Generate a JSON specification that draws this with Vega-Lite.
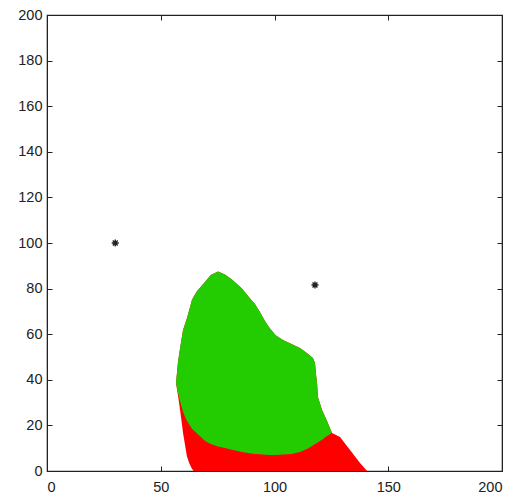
{
  "$schema": "https://vega.github.io/schema/vega-lite/v6.json",
  "width": 455,
  "height": 456,
  "autosize": "none",
  "padding": {"left": 47, "top": 15, "right": 17, "bottom": 27},
  "background": "white",
  "config": {
    "view": {"stroke": "#222222", "strokeWidth": 1.2},
    "axis": {
      "grid": false,
      "domainColor": "#222222",
      "tickColor": "#222222",
      "labelFont": "Liberation Sans",
      "labelFontSize": 14.5,
      "labelColor": "#222222",
      "tickSize": -5,
      "title": null
    }
  },
  "datasets": {
    "red": [
      {"x": 56.7, "lo": 38.6, "hi": 38.6},
      {"x": 57.6, "lo": 33.0, "hi": 48.0},
      {"x": 58.5, "lo": 26.8, "hi": 54.0},
      {"x": 59.8, "lo": 16.7, "hi": 61.8},
      {"x": 61.5, "lo": 6.5, "hi": 67.0},
      {"x": 62.5, "lo": 3.5, "hi": 70.5},
      {"x": 63.7, "lo": 1.0, "hi": 75.0},
      {"x": 64.5, "lo": 0, "hi": 76.5},
      {"x": 66.0, "lo": 0, "hi": 79.0},
      {"x": 69.5, "lo": 0, "hi": 83.0},
      {"x": 72.0, "lo": 0, "hi": 86.0},
      {"x": 75.2, "lo": 0, "hi": 87.5},
      {"x": 78.2, "lo": 0, "hi": 86.2},
      {"x": 81.3, "lo": 0, "hi": 84.0},
      {"x": 85.7, "lo": 0, "hi": 80.0},
      {"x": 89.0, "lo": 0, "hi": 76.0},
      {"x": 91.4, "lo": 0, "hi": 73.2},
      {"x": 93.6, "lo": 0, "hi": 69.7},
      {"x": 96.0, "lo": 0, "hi": 65.5},
      {"x": 98.0, "lo": 0, "hi": 62.5},
      {"x": 100.5, "lo": 0, "hi": 59.5},
      {"x": 103.7, "lo": 0, "hi": 57.5},
      {"x": 107.5, "lo": 0, "hi": 55.7},
      {"x": 111.2, "lo": 0, "hi": 53.9},
      {"x": 114.5, "lo": 0, "hi": 51.5},
      {"x": 116.9, "lo": 0, "hi": 49.6},
      {"x": 117.8, "lo": 0, "hi": 47.4},
      {"x": 118.3, "lo": 0, "hi": 42.0},
      {"x": 118.7, "lo": 0, "hi": 38.6},
      {"x": 119.1, "lo": 0, "hi": 32.5},
      {"x": 120.9, "lo": 0, "hi": 26.8},
      {"x": 122.9, "lo": 0, "hi": 22.4},
      {"x": 125.3, "lo": 0, "hi": 16.7},
      {"x": 128.8, "lo": 0, "hi": 14.9},
      {"x": 133.2, "lo": 0, "hi": 9.2},
      {"x": 137.6, "lo": 0, "hi": 3.5},
      {"x": 140.7, "lo": 0, "hi": 0}
    ],
    "green": [
      {"x": 56.7, "lo": 38.6, "hi": 38.6},
      {"x": 57.6, "lo": 34.2, "hi": 48.0},
      {"x": 58.5, "lo": 30.5, "hi": 54.0},
      {"x": 59.8, "lo": 26.0, "hi": 61.8},
      {"x": 60.7, "lo": 23.7, "hi": 64.5},
      {"x": 61.5, "lo": 22.0, "hi": 67.0},
      {"x": 63.7, "lo": 18.5, "hi": 75.0},
      {"x": 66.0, "lo": 16.4, "hi": 79.0},
      {"x": 69.5, "lo": 13.2, "hi": 83.0},
      {"x": 72.0, "lo": 11.8, "hi": 86.0},
      {"x": 75.2, "lo": 10.8, "hi": 87.5},
      {"x": 78.2, "lo": 10.1, "hi": 86.2},
      {"x": 81.3, "lo": 9.3, "hi": 84.0},
      {"x": 85.7, "lo": 8.3, "hi": 80.0},
      {"x": 89.0, "lo": 7.8, "hi": 76.0},
      {"x": 91.4, "lo": 7.5, "hi": 73.2},
      {"x": 93.6, "lo": 7.3, "hi": 69.7},
      {"x": 96.0, "lo": 7.1, "hi": 65.5},
      {"x": 98.0, "lo": 7.0, "hi": 62.5},
      {"x": 100.5, "lo": 7.0, "hi": 59.5},
      {"x": 103.7, "lo": 7.2, "hi": 57.5},
      {"x": 107.5, "lo": 7.5, "hi": 55.7},
      {"x": 111.2, "lo": 8.3, "hi": 53.9},
      {"x": 114.5, "lo": 9.8, "hi": 51.5},
      {"x": 116.9, "lo": 11.2, "hi": 49.6},
      {"x": 117.8, "lo": 11.8, "hi": 47.4},
      {"x": 118.3, "lo": 12.1, "hi": 42.0},
      {"x": 118.7, "lo": 12.3, "hi": 38.6},
      {"x": 119.1, "lo": 12.6, "hi": 32.5},
      {"x": 120.9, "lo": 13.7, "hi": 26.8},
      {"x": 122.9, "lo": 15.2, "hi": 22.4},
      {"x": 125.3, "lo": 16.7, "hi": 16.7}
    ],
    "stars": [
      {"x": 30, "y": 100},
      {"x": 117.8, "y": 81.6}
    ]
  },
  "resolve": {"axis": {"x": "independent", "y": "independent"}},
  "layer": [
    {
      "data": {"name": "red"},
      "mark": {"type": "area", "color": "#ff0000", "orient": "vertical"},
      "encoding": {
        "x": {"field": "x", "type": "quantitative", "scale": {"domain": [0, 200], "nice": false, "zero": false},
              "axis": {"orient": "bottom", "values": [0, 50, 100, 150, 200], "labelPadding": 14}},
        "y": {"field": "hi", "type": "quantitative", "scale": {"domain": [0, 200], "nice": false, "zero": false},
              "axis": {"orient": "left", "values": [0, 20, 40, 60, 80, 100, 120, 140, 160, 180, 200], "labelPadding": 10}},
        "y2": {"field": "lo"}
      }
    },
    {
      "data": {"name": "green"},
      "mark": {"type": "area", "color": "#22cc00", "orient": "vertical"},
      "encoding": {
        "x": {"field": "x", "type": "quantitative", "axis": null},
        "y": {"field": "hi", "type": "quantitative", "axis": null},
        "y2": {"field": "lo"}
      }
    },
    {
      "data": {"name": "stars"},
      "mark": {
        "type": "point",
        "shape": "M-1,0L1,0M0,-1L0,1M-0.7,-0.7L0.7,0.7M-0.7,0.7L0.7,-0.7",
        "size": 50,
        "stroke": "#222222",
        "strokeWidth": 1.4,
        "filled": false,
        "opacity": 1
      },
      "encoding": {
        "x": {"field": "x", "type": "quantitative",
              "axis": {"orient": "top", "labels": false, "values": [0, 50, 100, 150, 200]}},
        "y": {"field": "y", "type": "quantitative",
              "axis": {"orient": "right", "labels": false, "values": [0, 20, 40, 60, 80, 100, 120, 140, 160, 180, 200]}}
      }
    }
  ]
}
